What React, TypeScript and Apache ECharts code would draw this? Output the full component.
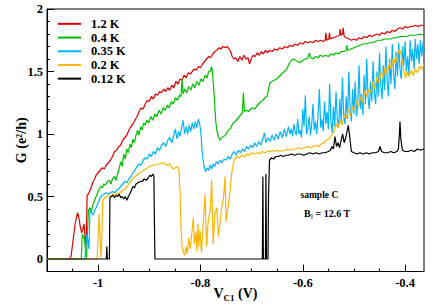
import React, { useEffect, useRef } from "react";
import * as echarts from "echarts";

const FONT = '"Liberation Serif", "Times New Roman", serif';

const seriesNames = ["1.2 K", "0.4 K", "0.35 K", "0.2 K", "0.12 K"];
const seriesColors = ["#e00000", "#00c000", "#00b4ff", "#ffb400", "#000000"];

const xMajor = [-1, -0.8, -0.6, -0.4];
const xMinor = [-1.05, -0.95, -0.9, -0.85, -0.75, -0.7, -0.65, -0.55, -0.5, -0.45];
const yMajor = [0, 0.5, 1, 1.5, 2];
const yMinor = [0.1, 0.2, 0.3, 0.4, 0.6, 0.7, 0.8, 0.9, 1.1, 1.2, 1.3, 1.4, 1.6, 1.7, 1.8, 1.9];

const red1p2K = [
  [-1.1, 0], [-1.056, 0], [-1.053, 0.02], [-1.049, 0.15], [-1.045, 0.28], [-1.0405, 0.37], [-1.038, 0.34], [-1.035, 0.26], [-1.032, 0.21], [-1.03, 0.24], [-1.0275, 0.28], [-1.026, 0.2], [-1.0245, 0.06], [-1.023, 0.2], [-1.0215, 0.51], [-1.019, 0.52], [-1.016, 0.55], [-1.013, 0.58], [-1.01, 0.62], [-1.007, 0.64], [-1.004, 0.67], [-1.0, 0.69], [-0.996, 0.71], [-0.992, 0.73], [-0.988, 0.72], [-0.984, 0.75], [-0.98, 0.77], [-0.976, 0.79], [-0.972, 0.82], [-0.968, 0.86], [-0.964, 0.87], [-0.96, 0.9], [-0.956, 0.91], [-0.952, 0.95], [-0.948, 0.97], [-0.944, 0.99], [-0.94, 1.03], [-0.936, 1.06], [-0.932, 1.08], [-0.928, 1.11], [-0.924, 1.14], [-0.92, 1.18], [-0.916, 1.21], [-0.912, 1.2], [-0.908, 1.24], [-0.904, 1.27], [-0.9, 1.26], [-0.896, 1.3], [-0.892, 1.28], [-0.888, 1.32], [-0.884, 1.31], [-0.88, 1.34], [-0.876, 1.33], [-0.872, 1.36], [-0.868, 1.34], [-0.864, 1.37], [-0.86, 1.35], [-0.856, 1.39], [-0.852, 1.37], [-0.848, 1.42], [-0.844, 1.4], [-0.84, 1.44], [-0.836, 1.43], [-0.832, 1.47], [-0.828, 1.45], [-0.824, 1.49], [-0.82, 1.48], [-0.816, 1.5], [-0.812, 1.52], [-0.808, 1.51], [-0.804, 1.54], [-0.8, 1.53], [-0.796, 1.56], [-0.792, 1.58], [-0.788, 1.6], [-0.784, 1.62], [-0.78, 1.61], [-0.776, 1.64], [-0.772, 1.66], [-0.768, 1.67], [-0.764, 1.69], [-0.76, 1.68], [-0.756, 1.7], [-0.752, 1.69], [-0.748, 1.7], [-0.744, 1.68], [-0.741, 1.66], [-0.738, 1.62], [-0.735, 1.6], [-0.731, 1.61], [-0.727, 1.58], [-0.723, 1.62], [-0.719, 1.59], [-0.715, 1.63], [-0.711, 1.6], [-0.707, 1.61], [-0.704, 1.56], [-0.701, 1.6], [-0.697, 1.63], [-0.693, 1.62], [-0.689, 1.65], [-0.685, 1.63], [-0.681, 1.66], [-0.677, 1.64], [-0.673, 1.67], [-0.669, 1.65], [-0.665, 1.67], [-0.66, 1.66], [-0.655, 1.68], [-0.65, 1.67], [-0.645, 1.69], [-0.64, 1.68], [-0.635, 1.7], [-0.63, 1.69], [-0.625, 1.71], [-0.62, 1.7], [-0.615, 1.72], [-0.61, 1.71], [-0.605, 1.73], [-0.6, 1.72], [-0.595, 1.74], [-0.59, 1.73], [-0.585, 1.74], [-0.58, 1.73], [-0.575, 1.75], [-0.57, 1.74], [-0.565, 1.75], [-0.56, 1.74], [-0.556, 1.75], [-0.555, 1.81], [-0.553, 1.75], [-0.549, 1.76], [-0.548, 1.81], [-0.546, 1.76], [-0.54, 1.77], [-0.534, 1.78], [-0.528, 1.79], [-0.527, 1.84], [-0.525, 1.79], [-0.522, 1.8], [-0.521, 1.85], [-0.519, 1.78], [-0.515, 1.77], [-0.51, 1.76], [-0.505, 1.75], [-0.5, 1.76], [-0.495, 1.75], [-0.49, 1.77], [-0.485, 1.76], [-0.48, 1.78], [-0.475, 1.77], [-0.47, 1.79], [-0.465, 1.78], [-0.46, 1.79], [-0.455, 1.8], [-0.45, 1.79], [-0.445, 1.81], [-0.44, 1.8], [-0.435, 1.82], [-0.43, 1.81], [-0.425, 1.83], [-0.42, 1.82], [-0.415, 1.84], [-0.41, 1.85], [-0.405, 1.84], [-0.4, 1.86], [-0.395, 1.85], [-0.39, 1.86], [-0.385, 1.86], [-0.38, 1.87], [-0.375, 1.86], [-0.37, 1.87], [-0.363, 1.87],
];

const green0p4K = [
  [-1.1, 0], [-1.033, 0], [-1.031, 0.2], [-1.028, 0.17], [-1.026, 0.14], [-1.023, 0.01], [-1.021, 0.2], [-1.019, 0.39], [-1.016, 0.41], [-1.013, 0.38], [-1.01, 0.44], [-1.007, 0.47], [-1.004, 0.5], [-1.001, 0.53], [-0.998, 0.56], [-0.995, 0.58], [-0.992, 0.57], [-0.989, 0.6], [-0.986, 0.59], [-0.982, 0.62], [-0.978, 0.63], [-0.975, 0.6], [-0.972, 0.64], [-0.968, 0.66], [-0.965, 0.63], [-0.962, 0.68], [-0.959, 0.72], [-0.956, 0.78], [-0.953, 0.74], [-0.95, 0.84], [-0.947, 0.8], [-0.944, 0.88], [-0.941, 0.85], [-0.938, 0.92], [-0.935, 0.89], [-0.932, 0.96], [-0.929, 0.93], [-0.926, 0.99], [-0.923, 1.03], [-0.92, 0.99], [-0.917, 1.06], [-0.914, 1.03], [-0.911, 1.09], [-0.908, 1.07], [-0.905, 1.11], [-0.901, 1.09], [-0.897, 1.14], [-0.893, 1.11], [-0.889, 1.16], [-0.885, 1.14], [-0.881, 1.19], [-0.877, 1.16], [-0.873, 1.21], [-0.869, 1.19], [-0.865, 1.23], [-0.861, 1.21], [-0.857, 1.26], [-0.853, 1.24], [-0.849, 1.29], [-0.845, 1.27], [-0.841, 1.31], [-0.838, 1.3], [-0.836, 1.44], [-0.834, 1.32], [-0.831, 1.36], [-0.827, 1.33], [-0.823, 1.38], [-0.819, 1.35], [-0.815, 1.4], [-0.811, 1.37], [-0.807, 1.42], [-0.803, 1.39], [-0.799, 1.44], [-0.795, 1.42], [-0.791, 1.47], [-0.787, 1.45], [-0.784, 1.5], [-0.781, 1.5], [-0.778, 1.54], [-0.776, 1.47], [-0.775, 1.41], [-0.773, 1.3], [-0.772, 1.22], [-0.77, 1.1], [-0.768, 1.03], [-0.765, 0.98], [-0.762, 0.95], [-0.759, 0.97], [-0.755, 0.98], [-0.751, 0.99], [-0.746, 1.03], [-0.742, 1.04], [-0.736, 1.09], [-0.732, 1.1], [-0.728, 1.12], [-0.724, 1.14], [-0.72, 1.16], [-0.718, 1.17], [-0.716, 1.33], [-0.714, 1.18], [-0.71, 1.19], [-0.706, 1.18], [-0.702, 1.2], [-0.698, 1.21], [-0.694, 1.2], [-0.69, 1.22], [-0.686, 1.24], [-0.682, 1.26], [-0.678, 1.27], [-0.674, 1.29], [-0.67, 1.3], [-0.667, 1.36], [-0.664, 1.41], [-0.66, 1.42], [-0.656, 1.43], [-0.651, 1.44], [-0.646, 1.46], [-0.641, 1.48], [-0.636, 1.5], [-0.631, 1.52], [-0.627, 1.56], [-0.622, 1.59], [-0.618, 1.6], [-0.614, 1.59], [-0.61, 1.58], [-0.605, 1.57], [-0.6, 1.59], [-0.595, 1.6], [-0.59, 1.61], [-0.587, 1.65], [-0.585, 1.61], [-0.58, 1.6], [-0.575, 1.62], [-0.57, 1.61], [-0.566, 1.63], [-0.56, 1.62], [-0.555, 1.63], [-0.55, 1.62], [-0.545, 1.64], [-0.54, 1.63], [-0.535, 1.65], [-0.53, 1.64], [-0.525, 1.66], [-0.52, 1.66], [-0.515, 1.67], [-0.514, 1.71], [-0.512, 1.67], [-0.506, 1.68], [-0.5, 1.69], [-0.494, 1.7], [-0.488, 1.71], [-0.482, 1.72], [-0.476, 1.72], [-0.47, 1.73], [-0.464, 1.73], [-0.458, 1.74], [-0.452, 1.75], [-0.446, 1.75], [-0.44, 1.76], [-0.434, 1.76], [-0.428, 1.76], [-0.422, 1.77], [-0.416, 1.77], [-0.41, 1.78], [-0.404, 1.78], [-0.398, 1.78], [-0.39, 1.79], [-0.38, 1.79], [-0.37, 1.8], [-0.363, 1.79],
];

const blue0p35K = [
  [-1.1, 0], [-1.026, 0], [-1.024, 0.12], [-1.022, 0.2], [-1.02, 0.15], [-1.018, 0.08], [-1.016, 0.39], [-1.013, 0.37], [-1.01, 0.35], [-1.007, 0.39], [-1.004, 0.41], [-1.0, 0.45], [-0.996, 0.49], [-0.992, 0.51], [-0.988, 0.52], [-0.984, 0.53], [-0.98, 0.52], [-0.976, 0.53], [-0.972, 0.54], [-0.968, 0.53], [-0.964, 0.55], [-0.96, 0.56], [-0.956, 0.58], [-0.952, 0.6], [-0.948, 0.62], [-0.944, 0.61], [-0.94, 0.64], [-0.936, 0.66], [-0.932, 0.69], [-0.928, 0.71], [-0.924, 0.74], [-0.92, 0.76], [-0.916, 0.75], [-0.912, 0.79], [-0.908, 0.81], [-0.904, 0.8], [-0.9, 0.84], [-0.896, 0.82], [-0.892, 0.86], [-0.888, 0.84], [-0.884, 0.89], [-0.88, 0.87], [-0.876, 0.91], [-0.872, 0.93], [-0.868, 0.9], [-0.864, 0.95], [-0.86, 0.97], [-0.856, 0.93], [-0.852, 0.99], [-0.849, 1.04], [-0.846, 0.96], [-0.843, 1.02], [-0.84, 0.98], [-0.837, 1.05], [-0.834, 1.11], [-0.831, 1.0], [-0.828, 1.06], [-0.825, 1.0], [-0.822, 1.07], [-0.819, 1.02], [-0.816, 1.09], [-0.813, 1.04], [-0.81, 1.1], [-0.807, 1.05], [-0.804, 1.12], [-0.801, 1.07], [-0.799, 1.0], [-0.797, 0.88], [-0.795, 0.8], [-0.793, 0.74], [-0.79, 0.7], [-0.787, 0.73], [-0.784, 0.71], [-0.781, 0.75], [-0.778, 0.72], [-0.775, 0.76], [-0.772, 0.74], [-0.769, 0.78], [-0.766, 0.76], [-0.762, 0.79], [-0.758, 0.77], [-0.754, 0.8], [-0.75, 0.79], [-0.746, 0.82], [-0.742, 0.8], [-0.738, 0.84], [-0.734, 0.86], [-0.73, 0.83], [-0.726, 0.87], [-0.722, 0.85], [-0.718, 0.88], [-0.714, 0.86], [-0.71, 0.9], [-0.706, 0.88], [-0.702, 0.91], [-0.698, 0.89], [-0.694, 0.93], [-0.69, 0.9], [-0.686, 0.94], [-0.682, 0.91], [-0.678, 0.96], [-0.675, 1.01], [-0.672, 0.93], [-0.668, 0.97], [-0.664, 0.94], [-0.66, 0.99], [-0.656, 0.95], [-0.652, 1.0], [-0.648, 0.96], [-0.644, 1.02], [-0.64, 0.97], [-0.636, 1.04], [-0.632, 0.98], [-0.628, 1.06],
  [-0.625, 1.0], [-0.6225, 1.04], [-0.62, 0.98], [-0.6175, 1.08], [-0.615, 1.02], [-0.6125, 0.99], [-0.61, 1.12], [-0.6075, 1.0], [-0.605, 1.03], [-0.6025, 0.97], [-0.6, 1.2], [-0.5975, 1.06], [-0.595, 1.31], [-0.5925, 1.0], [-0.59, 1.05], [-0.5875, 1.14], [-0.585, 0.99], [-0.5825, 1.08], [-0.58, 1.24], [-0.5775, 1.03], [-0.575, 1.1], [-0.5725, 1.0], [-0.57, 1.16], [-0.5675, 1.36], [-0.565, 1.05], [-0.5625, 1.12], [-0.56, 1.02], [-0.5575, 1.26], [-0.555, 1.08], [-0.5525, 1.18], [-0.55, 1.04], [-0.5475, 1.4], [-0.545, 1.1], [-0.5425, 1.01], [-0.54, 1.22], [-0.5375, 1.06], [-0.535, 1.34], [-0.5325, 1.12], [-0.53, 1.05], [-0.5275, 1.28], [-0.525, 1.09], [-0.5225, 1.45], [-0.52, 1.15], [-0.5175, 1.08], [-0.515, 1.3], [-0.5125, 1.12], [-0.51, 1.5], [-0.5075, 1.2], [-0.505, 1.1], [-0.5025, 1.36], [-0.5, 1.16], [-0.4975, 1.42], [-0.495, 1.14], [-0.4925, 1.25], [-0.49, 1.55], [-0.4875, 1.2], [-0.485, 1.32], [-0.4825, 1.15], [-0.48, 1.47], [-0.4775, 1.24], [-0.475, 1.6], [-0.4725, 1.3], [-0.47, 1.2], [-0.4675, 1.42], [-0.465, 1.26], [-0.4625, 1.58], [-0.46, 1.33], [-0.4575, 1.24], [-0.455, 1.5], [-0.4525, 1.3], [-0.45, 1.65], [-0.4475, 1.38], [-0.445, 1.28], [-0.4425, 1.55], [-0.44, 1.35], [-0.4375, 1.7], [-0.435, 1.42], [-0.4325, 1.3], [-0.43, 1.6], [-0.4275, 1.4], [-0.425, 1.72], [-0.4225, 1.48], [-0.42, 1.36], [-0.4175, 1.66], [-0.415, 1.46], [-0.4125, 1.73], [-0.41, 1.52], [-0.4075, 1.44], [-0.405, 1.7], [-0.4025, 1.55], [-0.4, 1.74], [-0.3975, 1.5], [-0.395, 1.62], [-0.3925, 1.47], [-0.39, 1.75], [-0.3875, 1.58], [-0.385, 1.68], [-0.3825, 1.52], [-0.38, 1.76], [-0.3775, 1.6], [-0.375, 1.72], [-0.3725, 1.56], [-0.37, 1.75], [-0.3675, 1.62], [-0.365, 1.73], [-0.363, 1.66],
];

const orange0p2K = [
  [-1.1, 0], [-1.002, 0], [-1.0, 0.2], [-0.998, 0.36], [-0.996, 0.12], [-0.994, 0.01], [-0.992, 0.3], [-0.991, 0.47], [-0.987, 0.49], [-0.983, 0.5], [-0.979, 0.51], [-0.975, 0.5], [-0.971, 0.52], [-0.967, 0.51], [-0.963, 0.53], [-0.959, 0.52], [-0.955, 0.54], [-0.951, 0.55], [-0.947, 0.56], [-0.943, 0.58], [-0.939, 0.61], [-0.935, 0.63], [-0.931, 0.65], [-0.927, 0.66], [-0.923, 0.68], [-0.919, 0.69], [-0.915, 0.7], [-0.911, 0.71], [-0.907, 0.72], [-0.903, 0.73], [-0.899, 0.74], [-0.894, 0.75], [-0.889, 0.75], [-0.884, 0.76], [-0.879, 0.76], [-0.874, 0.77], [-0.869, 0.76], [-0.865, 0.75], [-0.861, 0.76], [-0.857, 0.74], [-0.853, 0.72], [-0.849, 0.73], [-0.845, 0.74], [-0.842, 0.71], [-0.84, 0.55], [-0.838, 0.25], [-0.836, 0.1], [-0.8335, 0.05],
  [-0.831, 0.03], [-0.828, 0.1], [-0.826, 0.04], [-0.823, 0.17], [-0.82, 0.08], [-0.817, 0.2], [-0.814, 0.33], [-0.812, 0.12], [-0.809, 0.22], [-0.807, 0.06], [-0.805, 0.28], [-0.803, 0.1], [-0.801, 0.23], [-0.798, 0.05], [-0.794, 0.33], [-0.791, 0.52], [-0.789, 0.2], [-0.788, 0.1], [-0.785, 0.3], [-0.781, 0.39], [-0.778, 0.63], [-0.776, 0.25], [-0.775, 0.12], [-0.772, 0.35], [-0.768, 0.41], [-0.765, 0.18], [-0.762, 0.28], [-0.759, 0.4], [-0.755, 0.49], [-0.752, 0.66], [-0.75, 0.3], [-0.749, 0.33], [-0.745, 0.45], [-0.742, 0.55], [-0.739, 0.68], [-0.736, 0.76],
  [-0.733, 0.8], [-0.729, 0.82], [-0.724, 0.81], [-0.719, 0.83], [-0.714, 0.82], [-0.709, 0.84], [-0.704, 0.83], [-0.699, 0.85], [-0.694, 0.84], [-0.689, 0.85], [-0.684, 0.84], [-0.679, 0.86], [-0.674, 0.85], [-0.669, 0.86], [-0.664, 0.86], [-0.659, 0.87], [-0.654, 0.86], [-0.649, 0.87], [-0.644, 0.86], [-0.639, 0.87], [-0.634, 0.87], [-0.629, 0.88], [-0.624, 0.87], [-0.619, 0.88], [-0.614, 0.88], [-0.609, 0.89], [-0.604, 0.88], [-0.599, 0.89], [-0.594, 0.89], [-0.589, 0.9], [-0.584, 0.89], [-0.579, 0.9], [-0.574, 0.91], [-0.569, 0.9], [-0.564, 0.92], [-0.559, 0.93], [-0.554, 0.95], [-0.549, 0.96], [-0.544, 0.99], [-0.539, 1.02], [-0.535, 1.08], [-0.531, 1.05], [-0.527, 1.11], [-0.523, 1.07], [-0.519, 1.15], [-0.515, 1.12], [-0.511, 1.2], [-0.507, 1.14], [-0.503, 1.22], [-0.499, 1.19], [-0.495, 1.27], [-0.491, 1.22], [-0.487, 1.3], [-0.483, 1.25], [-0.479, 1.35], [-0.475, 1.3], [-0.471, 1.36], [-0.467, 1.33], [-0.463, 1.42], [-0.459, 1.36], [-0.455, 1.46], [-0.451, 1.41], [-0.447, 1.5], [-0.443, 1.44], [-0.439, 1.54], [-0.435, 1.48], [-0.431, 1.57], [-0.427, 1.52], [-0.423, 1.61], [-0.419, 1.56], [-0.415, 1.63], [-0.411, 1.68], [-0.408, 1.64], [-0.405, 1.58], [-0.402, 1.5], [-0.399, 1.45], [-0.396, 1.5], [-0.392, 1.46], [-0.388, 1.51], [-0.384, 1.47], [-0.38, 1.52], [-0.376, 1.49], [-0.372, 1.54], [-0.368, 1.52], [-0.363, 1.56],
];

const black0p12K = [
  [-1.1, 0], [-0.984, 0], [-0.983, 0.1], [-0.982, 0], [-0.978, 0], [-0.977, 0.49], [-0.974, 0.5], [-0.971, 0.51], [-0.968, 0.49], [-0.965, 0.51], [-0.962, 0.5], [-0.959, 0.52], [-0.956, 0.49], [-0.953, 0.5], [-0.95, 0.48], [-0.947, 0.5], [-0.944, 0.47], [-0.941, 0.5], [-0.938, 0.52], [-0.935, 0.55], [-0.932, 0.58], [-0.929, 0.57], [-0.926, 0.6], [-0.922, 0.61], [-0.918, 0.62], [-0.914, 0.62], [-0.91, 0.64], [-0.906, 0.63], [-0.902, 0.65], [-0.899, 0.67], [-0.896, 0.66], [-0.893, 0.68], [-0.891, 0.66], [-0.89, 0.3], [-0.889, 0], [-0.679, 0], [-0.678, 0.66], [-0.677, 0], [-0.673, 0], [-0.672, 0.68], [-0.671, 0], [-0.668, 0], [-0.667, 0.5], [-0.665, 0.79], [-0.661, 0.81], [-0.657, 0.8], [-0.653, 0.82], [-0.648, 0.82], [-0.643, 0.83], [-0.638, 0.82], [-0.633, 0.83], [-0.628, 0.83], [-0.622, 0.84], [-0.616, 0.83], [-0.61, 0.84], [-0.604, 0.84], [-0.598, 0.83], [-0.592, 0.84], [-0.586, 0.85], [-0.58, 0.84], [-0.574, 0.85], [-0.568, 0.84], [-0.562, 0.85], [-0.556, 0.85], [-0.55, 0.86], [-0.546, 0.87], [-0.543, 0.9], [-0.54, 0.88], [-0.537, 0.98], [-0.534, 0.9], [-0.531, 0.93], [-0.528, 0.89], [-0.525, 0.95], [-0.522, 1.0], [-0.519, 0.93], [-0.516, 0.97], [-0.513, 1.03], [-0.511, 1.07], [-0.508, 0.97], [-0.505, 0.86], [-0.5, 0.85], [-0.494, 0.84], [-0.488, 0.85], [-0.482, 0.84], [-0.476, 0.85], [-0.47, 0.84], [-0.464, 0.85], [-0.458, 0.85], [-0.452, 0.86], [-0.449, 0.9], [-0.446, 0.86], [-0.44, 0.85], [-0.434, 0.85], [-0.428, 0.86], [-0.422, 0.85], [-0.416, 0.86], [-0.413, 0.88], [-0.411, 1.0], [-0.41, 1.1], [-0.408, 0.95], [-0.405, 0.87], [-0.4, 0.86], [-0.394, 0.86], [-0.388, 0.87], [-0.382, 0.86], [-0.376, 0.88], [-0.37, 0.87], [-0.363, 0.88],
];

const seriesData = [red1p2K, green0p4K, blue0p35K, orange0p2K, black0p12K];

const X_MIN = -1.1;
const X_MAX = -0.363;
const Y_MIN = -0.1;
const Y_MAX = 2;

const fmt = (v: number) => String(Math.round(v * 10) / 10);

export default function App() {
  const ref = useRef<HTMLDivElement>(null);
  useEffect(() => {
    if (!ref.current) return;
    const chart = echarts.init(ref.current, undefined, { renderer: "svg" });
    const labelStyle = { color: "#000", fontFamily: FONT, fontWeight: "bold" as const, fontSize: 12.5 };
    const option: any = {
      animation: false,
      backgroundColor: "#fff",
      grid: {
        left: 47, right: 12, top: 9, bottom: 34.5,
        containLabel: false, outerBoundsMode: "none",
        show: true, borderColor: "#000", borderWidth: 1, backgroundColor: "transparent",
      },
      legend: {
        show: true,
        orient: "vertical",
        left: 58,
        top: 17,
        itemWidth: 23,
        itemHeight: 2,
        itemGap: 0,
        icon: "rect",
        padding: 0,
        data: seriesNames,
        textStyle: { color: "#000", fontFamily: FONT, fontWeight: "bold", fontSize: 12.5, lineHeight: 13.7, padding: [0, 0, 0, 5] },
      },
      xAxis: [
        {
          type: "value", min: X_MIN, max: X_MAX, position: "bottom",
          axisLine: { show: true, onZero: false, lineStyle: { color: "#000", width: 1 } },
          axisTick: { show: true, inside: true, length: 7, customValues: xMajor, lineStyle: { color: "#000" } },
          axisLabel: { ...labelStyle, customValues: xMajor, margin: 5, formatter: fmt },
          splitLine: { show: false },
          name: "{v|V}{s|C1}{v| (V)}",
          nameLocation: "middle",
          nameGap: 13,
          nameMoveOverlap: false,
          nameTextStyle: {
            rich: {
              v: { fontFamily: FONT, fontWeight: "bold", fontSize: 14, lineHeight: 18, color: "#000" },
              s: { fontFamily: FONT, fontWeight: "bold", fontSize: 9, lineHeight: 9, verticalAlign: "bottom", color: "#000" },
            },
          },
        },
        {
          type: "value", min: X_MIN, max: X_MAX, position: "bottom",
          axisLine: { show: false, onZero: false },
          axisTick: { show: true, inside: true, length: 3, customValues: xMinor, lineStyle: { color: "#000" } },
          axisLabel: { show: false },
          splitLine: { show: false },
        },
      ],
      yAxis: [
        {
          type: "value", min: Y_MIN, max: Y_MAX, position: "left",
          axisLine: { show: true, onZero: false, lineStyle: { color: "#000", width: 1 } },
          axisTick: { show: true, inside: true, length: 7, customValues: yMajor, lineStyle: { color: "#000" } },
          axisLabel: { ...labelStyle, customValues: yMajor, margin: 4, formatter: fmt },
          splitLine: { show: false },
          name: "G (e²/h)",
          nameLocation: "middle",
          nameGap: 19,
          nameMoveOverlap: false,
          nameTextStyle: { color: "#000", fontFamily: FONT, fontWeight: "bold", fontSize: 14 },
        },
        {
          type: "value", min: Y_MIN, max: Y_MAX, position: "left",
          axisLine: { show: false, onZero: false },
          axisTick: { show: true, inside: true, length: 3, customValues: yMinor, lineStyle: { color: "#000" } },
          axisLabel: { show: false },
          splitLine: { show: false },
        },
      ],
      series: seriesNames.map((name, i) => ({
        name,
        type: "line",
        xAxisIndex: 0,
        yAxisIndex: 0,
        data: seriesData[i],
        showSymbol: false,
        symbol: "none",
        color: seriesColors[i],
        lineStyle: { color: seriesColors[i], width: 1.2 },
        itemStyle: { color: seriesColors[i] },
        clip: true,
        z: 2 + i,
      })),
      graphic: [
        { type: "text", x: 300.5, y: 195, style: { text: "sample C", fill: "#000", font: `bold 9.5px ${FONT}`, verticalAlign: "middle" } },
        {
          type: "text", x: 304, y: 213,
          style: {
            text: "{b|B}{s|||}{b| = 12.6 T}",
            verticalAlign: "middle",
            rich: {
              b: { fontFamily: FONT, fontWeight: "bold", fontSize: 10, lineHeight: 12, fill: "#000" },
              s: { fontFamily: FONT, fontWeight: "bold", fontSize: 5.5, lineHeight: 6, verticalAlign: "bottom", fill: "#000" },
            },
          },
        },
      ],
    };
    chart.setOption(option);
    return () => chart.dispose();
  }, []);
  return <div ref={ref} style={{ position: "fixed", left: 0, top: 0, width: 436, height: 306, background: "#fff" }} />;
}
